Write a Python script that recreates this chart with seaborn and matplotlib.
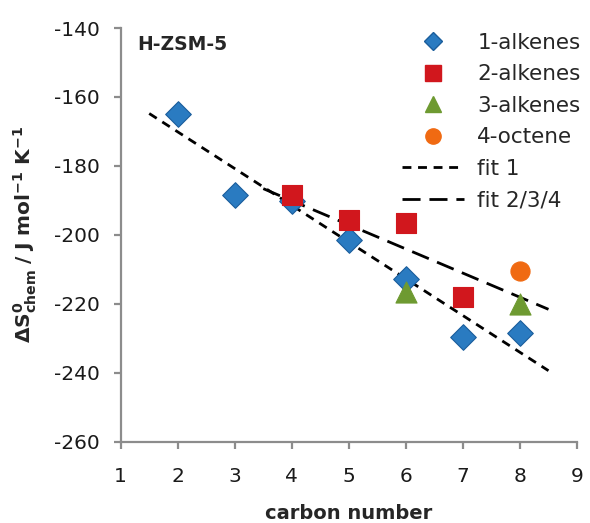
import matplotlib
matplotlib.use("Agg")
import matplotlib.pyplot as plt
import seaborn as sns
import pandas as pd
from matplotlib.lines import Line2D

# ---- data ----
alk1_x = [2, 3, 4, 5, 6, 7, 8]
alk1_y = [-165.0, -188.5, -190.2, -201.5, -212.7, -229.5, -228.5]
alk2_x = [4, 5, 6, 7]
alk2_y = [-188.3, -195.7, -196.7, -217.9]
alk3_x = [6, 8]
alk3_y = [-216.6, -220.2]
oct4_x = [8]
oct4_y = [-210.5]
fit1_x = [1.5, 8.5]
fit1_y = [-164.8, -239.4]
fit2_x = [3.5, 8.5]
fit2_y = [-186.6, -221.6]

series = ["1-alkenes", "2-alkenes", "3-alkenes", "4-octene"]
colors = {"1-alkenes": "#2A7BC1", "2-alkenes": "#D1171D",
          "3-alkenes": "#6E9A31", "4-octene": "#F06A12"}
edges = {"1-alkenes": "#1B5E9C", "2-alkenes": "#D1171D",
         "3-alkenes": "#6E9A31", "4-octene": "#F06A12"}
markers = {"1-alkenes": "D", "2-alkenes": "s", "3-alkenes": "^", "4-octene": "o"}
sizes = {"1-alkenes": 170, "2-alkenes": 190, "3-alkenes": 230, "4-octene": 190}

df = pd.concat([
    pd.DataFrame({"x": alk1_x, "y": alk1_y, "s": "1-alkenes"}),
    pd.DataFrame({"x": alk2_x, "y": alk2_y, "s": "2-alkenes"}),
    pd.DataFrame({"x": alk3_x, "y": alk3_y, "s": "3-alkenes"}),
    pd.DataFrame({"x": oct4_x, "y": oct4_y, "s": "4-octene"}),
])

sns.set_theme(style="white")
plt.rcParams["font.family"] = ["DejaVu Sans"]
plt.rcParams["axes.unicode_minus"] = False
plt.rcParams["mathtext.fontset"] = "dejavusans"

fig = plt.figure(figsize=(5.9, 5.23), dpi=100)
ax = fig.add_axes([120.7 / 590, 1 - 441.7 / 523, (577 - 120.7) / 590, (441.7 - 28) / 523])

# fit lines
sns.lineplot(x=fit1_x, y=fit1_y, ax=ax, color="black", lw=2.0, zorder=2)
ax.lines[-1].set_dashes([3.2, 2.4])
sns.lineplot(x=fit2_x, y=fit2_y, ax=ax, color="black", lw=2.0, zorder=2)
ax.lines[-1].set_dashes([6.5, 3.2])

for s in ["1-alkenes", "3-alkenes", "2-alkenes", "4-octene"]:
    d = df[df.s == s]
    sns.scatterplot(data=d, x="x", y="y", ax=ax, marker=markers[s], s=sizes[s],
                    color=colors[s], edgecolor=edges[s], linewidth=0.8, zorder=3, legend=False)

ax.set_xlim(1, 9)
ax.set_ylim(-260, -140)
ax.set_xticks(range(1, 10))
ax.set_yticks(range(-260, -139, 20))
for sp in ["top", "right"]:
    ax.spines[sp].set_visible(False)
for sp in ["left", "bottom"]:
    ax.spines[sp].set_color("#8C8C8C")
    ax.spines[sp].set_linewidth(1.6)
ax.tick_params(axis="both", which="major", direction="out", length=5, width=1.6,
               color="#8C8C8C", labelsize=14.5, labelcolor="#1a1a1a",
               bottom=True, left=True)
ax.tick_params(axis="x", pad=13)
ax.tick_params(axis="y", pad=10)
ax.grid(False)

ax.set_xlabel("carbon number", fontsize=14, fontweight="bold")
ax.xaxis.set_label_coords(0.5, -0.15)
ax.set_ylabel(r"$\mathbf{\Delta S^{0}_{chem}\ /\ J\ mol^{-1}\ K^{-1}}$", fontsize=14.5)
ax.yaxis.set_label_coords(-0.18, 0.5)

fig.text(137 / 590, 1 - 45 / 523, "H-ZSM-5", fontsize=13.5, fontweight="bold",
         va="center", ha="left")

handles = []
for s in series:
    handles.append(Line2D([], [], ls="none", marker=markers[s], color=colors[s],
                          markeredgecolor=edges[s], markersize=11 if s != "1-alkenes" else 9.5))
h1 = Line2D([], [], color="black", lw=2.0)
h1.set_dashes([3.2, 2.4])
h2 = Line2D([], [], color="black", lw=2.0)
h2.set_dashes([6.5, 3.2])
handles += [h1, h2]
labels = series + ["fit 1", "fit 2/3/4"]
leg = fig.legend(handles, labels, loc="upper left", bbox_to_anchor=(402 / 590, 1 - 33 / 523),
                 frameon=False, fontsize=15.5, handlelength=2.9, handletextpad=0.6,
                 labelspacing=0.53, borderpad=0, borderaxespad=0)

fig.savefig("out.png", dpi=100)
